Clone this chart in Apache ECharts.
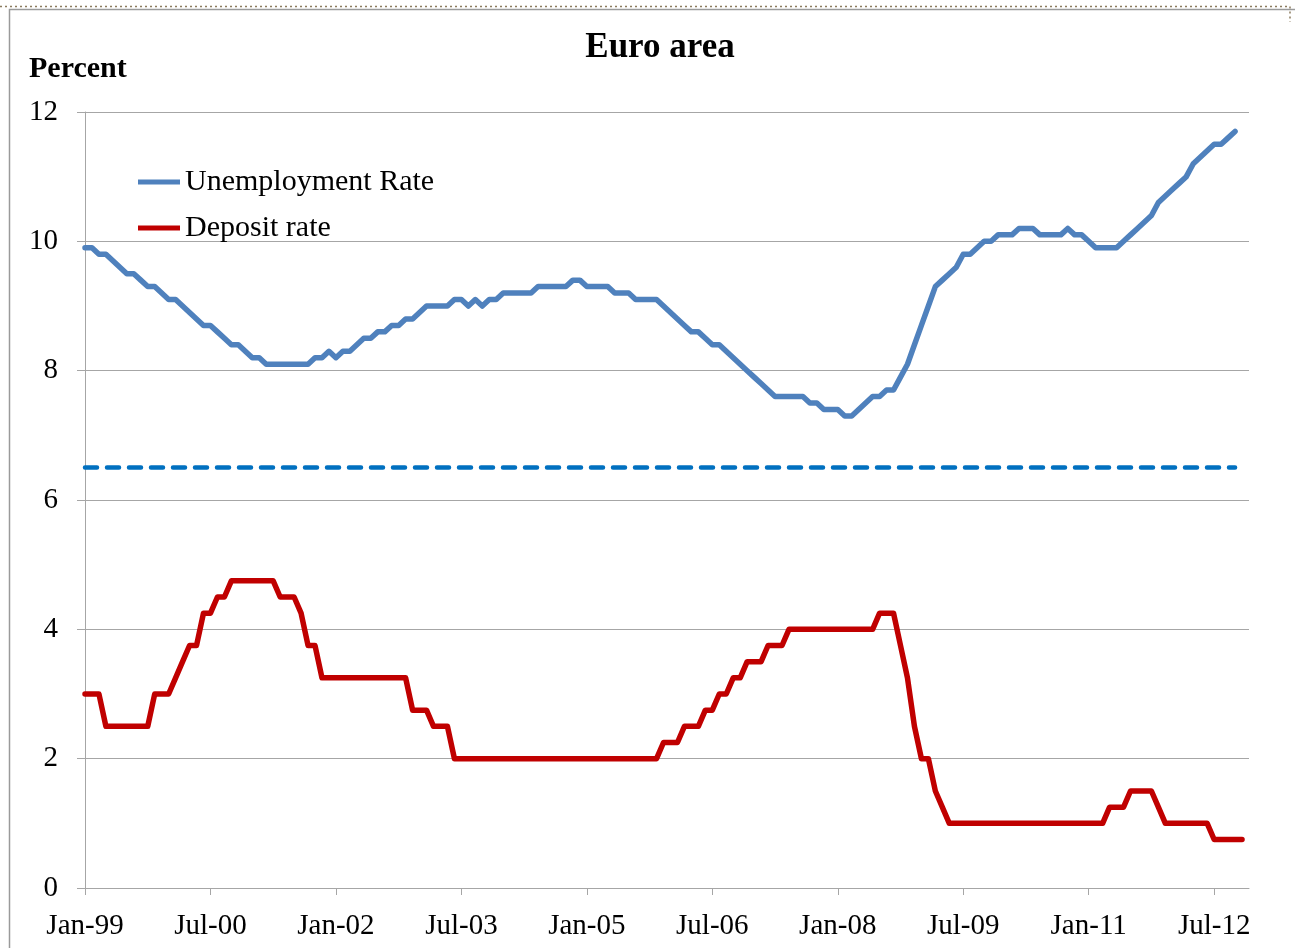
<!DOCTYPE html>
<html>
<head>
<meta charset="utf-8">
<script src="https://cdn.jsdelivr.net/npm/echarts@6/dist/echarts.min.js"></script>
<style>
html,body{margin:0;padding:0;background:#fff;}
#chart{width:1295px;height:948px;}
</style>
</head>
<body>
<div id="chart"></div>
<script>
// ---- data ----
var MONTH_NAMES = ['Jan','Feb','Mar','Apr','May','Jun','Jul','Aug','Sep','Oct','Nov','Dec'];
var FIRST_YEAR = 1999, LAST_YEAR = 2012;
var TICK_LABELS = ['Jan-99','Jul-00','Jan-02','Jul-03','Jan-05','Jul-06','Jan-08','Jul-09','Jan-11','Jul-12'];

var UNEMPLOYMENT = [
  9.9, 9.9, 9.8, 9.8, 9.7, 9.6, 9.5, 9.5, 9.4, 9.3, 9.3, 9.2,      // 1999
  9.1, 9.1, 9.0, 8.9, 8.8, 8.7, 8.7, 8.6, 8.5, 8.4, 8.4, 8.3,      // 2000
  8.2, 8.2, 8.1, 8.1, 8.1, 8.1, 8.1, 8.1, 8.1, 8.2, 8.2, 8.3,      // 2001
  8.2, 8.3, 8.3, 8.4, 8.5, 8.5, 8.6, 8.6, 8.7, 8.7, 8.8, 8.8,      // 2002
  8.9, 9.0, 9.0, 9.0, 9.0, 9.1, 9.1, 9.0, 9.1, 9.0, 9.1, 9.1,      // 2003
  9.2, 9.2, 9.2, 9.2, 9.2, 9.3, 9.3, 9.3, 9.3, 9.3, 9.4, 9.4,      // 2004
  9.3, 9.3, 9.3, 9.3, 9.2, 9.2, 9.2, 9.1, 9.1, 9.1, 9.1, 9.0,      // 2005
  8.9, 8.8, 8.7, 8.6, 8.6, 8.5, 8.4, 8.4, 8.3, 8.2, 8.1, 8.0,      // 2006
  7.9, 7.8, 7.7, 7.6, 7.6, 7.6, 7.6, 7.6, 7.5, 7.5, 7.4, 7.4,      // 2007
  7.4, 7.3, 7.3, 7.4, 7.5, 7.6, 7.6, 7.7, 7.7, 7.9, 8.1, 8.4,      // 2008
  8.7, 9.0, 9.3, 9.4, 9.5, 9.6, 9.8, 9.8, 9.9, 10.0, 10.0, 10.1,   // 2009
  10.1, 10.1, 10.2, 10.2, 10.2, 10.1, 10.1, 10.1, 10.1, 10.2, 10.1, 10.1, // 2010
  10.0, 9.9, 9.9, 9.9, 9.9, 10.0, 10.1, 10.2, 10.3, 10.4, 10.6, 10.7,     // 2011
  10.8, 10.9, 11.0, 11.2, 11.3, 11.4, 11.5, 11.5, 11.6, 11.7              // 2012
];

var DEPOSIT = [
  3.0, 3.0, 3.0, 2.5, 2.5, 2.5, 2.5, 2.5, 2.5, 2.5, 3.0, 3.0,              // 1999
  3.0, 3.25, 3.5, 3.75, 3.75, 4.25, 4.25, 4.5, 4.5, 4.75, 4.75, 4.75,      // 2000
  4.75, 4.75, 4.75, 4.75, 4.5, 4.5, 4.5, 4.25, 3.75, 3.75, 3.25, 3.25,     // 2001
  3.25, 3.25, 3.25, 3.25, 3.25, 3.25, 3.25, 3.25, 3.25, 3.25, 3.25, 2.75,  // 2002
  2.75, 2.75, 2.5, 2.5, 2.5, 2.0, 2.0, 2.0, 2.0, 2.0, 2.0, 2.0,            // 2003
  2.0, 2.0, 2.0, 2.0, 2.0, 2.0, 2.0, 2.0, 2.0, 2.0, 2.0, 2.0,              // 2004
  2.0, 2.0, 2.0, 2.0, 2.0, 2.0, 2.0, 2.0, 2.0, 2.0, 2.0, 2.25,             // 2005
  2.25, 2.25, 2.5, 2.5, 2.5, 2.75, 2.75, 3.0, 3.0, 3.25, 3.25, 3.5,        // 2006
  3.5, 3.5, 3.75, 3.75, 3.75, 4.0, 4.0, 4.0, 4.0, 4.0, 4.0, 4.0,           // 2007
  4.0, 4.0, 4.0, 4.0, 4.0, 4.0, 4.25, 4.25, 4.25, 3.75, 3.25, 2.5,         // 2008
  2.0, 2.0, 1.5, 1.25, 1.0, 1.0, 1.0, 1.0, 1.0, 1.0, 1.0, 1.0,             // 2009
  1.0, 1.0, 1.0, 1.0, 1.0, 1.0, 1.0, 1.0, 1.0, 1.0, 1.0, 1.0,              // 2010
  1.0, 1.0, 1.0, 1.25, 1.25, 1.25, 1.5, 1.5, 1.5, 1.5, 1.25, 1.0,          // 2011
  1.0, 1.0, 1.0, 1.0, 1.0, 1.0, 0.75, 0.75, 0.75, 0.75, 0.75               // 2012
];

var THRESHOLD = 6.5;
var THRESHOLD_START = 'Jan-99';
var THRESHOLD_END = 'Oct-12';

var Y_MIN = 0, Y_MAX = 12, Y_STEP = 2;

// categories: every month Jan-99 .. Dec-12
var CATEGORIES = [];
for (var y = FIRST_YEAR; y <= LAST_YEAR; y++) {
  for (var m = 0; m < 12; m++) {
    CATEGORIES.push(MONTH_NAMES[m] + '-' + String(y).slice(2));
  }
}

var FONT = '"Liberation Serif", "Times New Roman", serif';
var GRID_COLOR = '#A6A6A6';

function isTick(idx) { return TICK_LABELS.indexOf(CATEGORIES[idx]) !== -1; }

var chart = echarts.init(document.getElementById('chart'), null, {renderer: 'canvas'});
chart.setOption({
  animation: false,
  backgroundColor: '#ffffff',
  grid: {left: 85, right: 46, top: 112, bottom: 60, containLabel: false},
  legend: {
    orient: 'vertical',
    left: 133,
    top: 162,
    itemWidth: 42,
    itemHeight: 5,
    itemGap: 16,
    icon: 'rect',
    textStyle: {fontFamily: FONT, fontSize: 30, color: '#000'},
    data: ['Unemployment Rate', 'Deposit rate']
  },
  xAxis: {
    type: 'category',
    data: CATEGORIES,
    boundaryGap: false,
    axisLine: {show: true, lineStyle: {color: GRID_COLOR, width: 1}},
    axisTick: {show: true, length: 7, interval: function (i) { return isTick(i); }, lineStyle: {color: GRID_COLOR}},
    axisLabel: {
      interval: function (i) { return isTick(i); },
      fontFamily: FONT, fontSize: 29, color: '#000', margin: 24
    },
    splitLine: {show: false}
  },
  yAxis: {
    type: 'value',
    min: Y_MIN, max: Y_MAX, interval: Y_STEP,
    axisLine: {show: true, lineStyle: {color: GRID_COLOR, width: 1}},
    axisTick: {show: true, length: 8, lineStyle: {color: GRID_COLOR}},
    axisLabel: {fontFamily: FONT, fontSize: 29, color: '#000', margin: 27},
    splitLine: {show: true, lineStyle: {color: GRID_COLOR, width: 1}}
  },
  series: [
    {
      name: 'Unemployment Rate',
      type: 'line',
      data: UNEMPLOYMENT,
      showSymbol: false,
      symbol: 'none',
      color: '#4F81BD',
      lineStyle: {color: '#4F81BD', width: 5.5, cap: 'round', join: 'round'},
      silent: true,
      markLine: {
        silent: true,
        symbol: ['none', 'none'],
        label: {show: false},
        emphasis: {disabled: true},
        lineStyle: {color: '#0070C0', width: 4.5, type: [12, 10], cap: 'round'},
        data: [[{coord: [THRESHOLD_START, THRESHOLD]}, {coord: [THRESHOLD_END, THRESHOLD]}]]
      }
    },
    {
      name: 'Deposit rate',
      type: 'line',
      data: DEPOSIT,
      showSymbol: false,
      symbol: 'none',
      color: '#C00000',
      lineStyle: {color: '#C00000', width: 5.5, cap: 'round', join: 'round'},
      silent: true
    }
  ],
  graphic: [
    {type: 'line', shape: {x1: 0, y1: 6.5, x2: 1290, y2: 6.5}, style: {stroke: '#8B7B5E', lineWidth: 1.5, lineDash: [2, 3]}, silent: true},
    {type: 'line', shape: {x1: 1290, y1: 6.5, x2: 1290, y2: 22}, style: {stroke: '#8B7B5E', lineWidth: 1.5, lineDash: [2, 3]}, silent: true},
    {type: 'rect', shape: {x: 9.5, y: 9.5, width: 1400, height: 1000}, style: {fill: 'none', stroke: '#9A9A9A', lineWidth: 1.5}, silent: true},
    {type: 'text', x: 660, y: 48, style: {text: 'Euro area', font: 'bold 35px ' + FONT, fill: '#000', textAlign: 'center', textVerticalAlign: 'middle'}, silent: true},
    {type: 'text', x: 29, y: 69, style: {text: 'Percent', font: 'bold 30px ' + FONT, fill: '#000', textAlign: 'left', textVerticalAlign: 'middle'}, silent: true}
  ]
});
</script>
</body>
</html>
